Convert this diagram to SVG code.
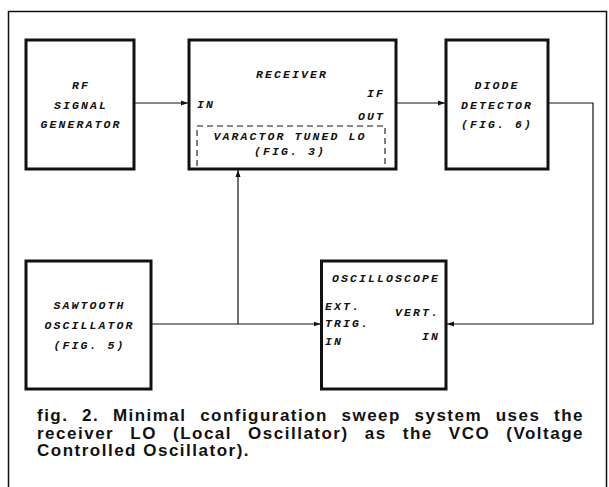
<svg xmlns="http://www.w3.org/2000/svg" width="609" height="487" viewBox="0 0 609 487">
<style>
  .frame{fill:none;stroke:#111;stroke-width:1.5}
  .box{fill:#fff;stroke:#111;stroke-width:3}
  .dash{fill:none;stroke:#111;stroke-width:1.1;stroke-dasharray:6 4}
  .wire{fill:none;stroke:#111;stroke-width:1.2}
  .lbl{font-family:"Liberation Mono","DejaVu Sans Mono",monospace;font-style:italic;font-weight:bold;font-size:11.5px;letter-spacing:2.1px;fill:#111}
  .c{text-anchor:middle}
  .r{text-anchor:end}
  .cap{font-family:"Liberation Sans",Arial,sans-serif;font-weight:bold;font-size:17px;letter-spacing:1.5px;fill:#111}
</style>
<defs>
  <marker id="ah" markerWidth="8" markerHeight="6" refX="7" refY="3" orient="auto" markerUnits="userSpaceOnUse">
    <path d="M0,0.5 L7,3 L0,5.5 Z" fill="#111"/>
  </marker>
</defs>
<rect width="609" height="487" fill="#fff"/>
<rect class="frame" x="8.5" y="11.5" width="598" height="490"/>

<g id="connectors">
  <line class="wire" x1="134" y1="103" x2="188" y2="103" marker-end="url(#ah)"/>
  <line class="wire" x1="396" y1="103" x2="445" y2="103" marker-end="url(#ah)"/>
  <polyline class="wire" points="548,103 593,103 593,324 447,324" marker-end="url(#ah)"/>
  <line class="wire" x1="151" y1="324" x2="320.5" y2="324" marker-end="url(#ah)"/>
  <line class="wire" x1="238" y1="324" x2="238" y2="170" marker-end="url(#ah)"/>
</g>

<g id="rf-generator">
  <rect class="box" x="26" y="40" width="108" height="129"/>
  <text class="lbl c" x="81" y="89">RF</text>
  <text class="lbl c" x="81" y="108.5">SIGNAL</text>
  <text class="lbl c" x="81" y="128">GENERATOR</text>
</g>

<g id="receiver">
  <rect class="box" x="189" y="40" width="207" height="129"/>
  <text class="lbl c" x="292" y="77.5">RECEIVER</text>
  <text class="lbl r" x="385" y="96.5">IF</text>
  <text class="lbl" x="197" y="108">IN</text>
  <text class="lbl r" x="385" y="119.5">OUT</text>
  <path class="dash" d="M197,166 V126 H385 V166"/>
  <text class="lbl c" x="290" y="140">VARACTOR TUNED LO</text>
  <text class="lbl c" x="290" y="155">(FIG. 3)</text>
</g>

<g id="diode-detector">
  <rect class="box" x="446" y="40" width="102" height="129"/>
  <text class="lbl c" x="497" y="89">DIODE</text>
  <text class="lbl c" x="497" y="108.5">DETECTOR</text>
  <text class="lbl c" x="497" y="128">(FIG. 6)</text>
</g>

<g id="sawtooth">
  <rect class="box" x="26" y="261" width="125" height="128"/>
  <text class="lbl c" x="89.5" y="309">SAWTOOTH</text>
  <text class="lbl c" x="89.5" y="329">OSCILLATOR</text>
  <text class="lbl c" x="89.5" y="349">(FIG. 5)</text>
</g>

<g id="oscilloscope">
  <rect class="box" x="321.5" y="261" width="124.5" height="128"/>
  <text class="lbl c" x="386" y="282">OSCILLOSCOPE</text>
  <text class="lbl" x="325" y="310">EXT.</text>
  <text class="lbl" x="325" y="327">TRIG.</text>
  <text class="lbl" x="325" y="345">IN</text>
  <text class="lbl r" x="440" y="316">VERT.</text>
  <text class="lbl r" x="440" y="340">IN</text>
</g>

<g id="caption">
  <text class="cap" x="37" y="420.5" word-spacing="7.5" textLength="547" lengthAdjust="spacing">fig. 2. Minimal configuration sweep system uses the</text>
  <text class="cap" x="37" y="438.5" word-spacing="9.9" textLength="547" lengthAdjust="spacing">receiver LO (Local Oscillator) as the VCO (Voltage</text>
  <text class="cap" x="37" y="456">Controlled Oscillator).</text>
</g>
</svg>
